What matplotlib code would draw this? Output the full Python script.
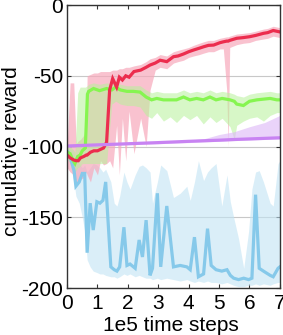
import numpy as np
import matplotlib.pyplot as plt

plt.rcParams['font.family'] = ['Liberation Sans', 'DejaVu Sans']

# blue series
blue_t = [0, 0.07, 0.23, 0.29, 0.4, 0.5, 0.58, 0.66, 0.76, 0.86, 0.98, 1.08, 1.18, 1.27,
          1.44, 1.55, 1.64, 1.73, 1.87, 1.97, 2.07, 2.24, 2.37, 2.48, 2.6, 2.73, 2.81, 2.97,
          3.08, 3.28, 3.5, 3.72, 3.94, 4.05, 4.19, 4.32, 4.49, 4.62, 4.74, 4.9, 5.09, 5.26,
          5.37, 5.48, 5.64, 5.81, 5.97, 6.08, 6.2, 6.32, 6.46, 6.68, 6.78, 6.94, 7.0]
blue = [-103, -105, -117, -128, -125, -119, -119, -175, -140, -159, -139, -140, -138, -125,
        -185, -187, -188, -185, -157, -184, -183, -186, -166, -178, -152, -191, -186, -133,
        -185, -142, -185, -184, -185, -187, -164, -192, -190, -158, -184, -187, -188, -187,
        -191, -193, -194, -193, -194, -193, -134, -186, -188, -191, -192, -186, -185]
blue_hi = [-100, -100, -105, -108, -112, -115, -113, -118, -115, -112, -113, -115, -118, -116,
           -125, -140, -142, -135, -118, -125, -130, -120, -114, -113, -115, -118, -140, -125,
           -113, -117, -136, -133, -128, -138, -125, -110, -124, -118, -115, -112, -142, -120,
           -139, -150, -165, -186, -160, -130, -118, -117, -125, -140, -142, -112, -110]
blue_lo = [-105, -110, -125, -135, -140, -150, -160, -180, -185, -188, -189, -190, -190, -191,
           -192, -192, -193, -192, -190, -191, -190, -192, -191, -192, -193, -193, -194, -193,
           -194, -193, -194, -195, -194, -195, -196, -195, -196, -195, -196, -196, -197, -196,
           -197, -198, -199, -199, -198, -198, -197, -198, -197, -198, -197, -196, -196]

# red series
red_t = [0, 0.1, 0.22, 0.3, 0.37, 0.44, 0.55, 0.63, 0.66, 0.77, 0.88, 1.0, 1.1, 1.2, 1.3, 1.4,
         1.5, 1.63, 1.72, 1.82, 1.93, 2.04, 2.2, 2.42, 2.6, 2.73, 2.9, 3.06, 3.28, 3.5, 3.65,
         3.83, 4.0, 4.16, 4.35, 4.49, 4.65, 4.82, 5.03, 5.14, 5.25, 5.3, 5.35, 5.58, 5.8, 6.0,
         6.2, 6.46, 6.6, 6.78, 7.0]
red = [-106, -108, -109.5, -110, -110, -108, -107, -106, -106, -104, -103, -103, -102, -101,
       -97, -60, -52, -58, -51, -53, -50, -51, -47, -46, -44, -42.4, -41, -39, -40, -36.5, -36,
       -34.6, -33, -31.8, -30.5, -29.5, -28.5, -28.3, -26.6, -26, -25.5, -25.5, -25, -23.5,
       -23, -22.4, -21.5, -20, -19.5, -18, -19]
red_hi = [-100, -55, -55, -98, -96, -95, -92, -88, -50, -49, -48, -48, -47, -47, -47, -47,
          -46, -46, -45, -45, -44, -44, -43, -42, -40, -38, -37, -35, -36, -33, -32, -31, -30,
          -28.5, -27, -26, -25, -25, -23.5, -23, -22.5, -22.5, -22, -20.5, -20, -19.5, -18.5,
          -17, -16.5, -15, -16]
red_lo = [-115, -118, -120, -125, -125, -123, -122, -118, -120, -125, -115, -120, -110, -113,
          -112, -110, -115, -85, -120, -80, -110, -75, -105, -80, -100, -60, -46, -44, -45, -41,
          -40, -39, -37, -36, -35, -34, -33, -33, -31, -31, -60, -100, -30, -28, -27, -26.5, -25,
          -24, -23.5, -22, -23]

# green series
green_t = [0, 0.1, 0.2, 0.26, 0.35, 0.43, 0.5, 0.6, 0.67, 0.71, 0.87, 1.07, 1.3, 1.47, 1.6,
           1.75, 1.97, 2.18, 2.4, 2.6, 2.78, 2.95, 3.17, 3.39, 3.6, 3.83, 4.04, 4.26, 4.48, 4.7,
           4.9, 5.1, 5.36, 5.5, 5.58, 5.8, 6.0, 6.24, 6.46, 6.68, 6.9, 7.0]
green = [-104, -105, -110, -112, -107, -106, -103, -101, -63, -61, -59, -60.5, -59, -60, -58,
         -60, -61, -61, -61.5, -65, -67, -66, -67, -67, -67, -65, -67, -66, -67, -65, -67, -66,
         -67, -68, -70, -71, -68, -67, -66.5, -66, -67, -67]
green_hi = [-100, -100, -102, -104, -62, -58, -58, -58, -57, -56, -55, -56, -55, -56, -54, -56,
            -57, -57, -57, -60, -62, -61, -62, -62, -62, -60, -62, -61, -62, -60, -62, -61, -62,
            -63, -64, -65, -63, -62, -61.5, -61, -62, -62]
green_lo = [-108, -112, -116, -118, -115, -114, -112, -112, -112, -112, -112, -112, -112, -70,
            -68, -70, -71, -71, -72, -78, -80, -76, -82, -79, -83, -78, -81, -78, -84, -79, -83,
            -80, -86, -95, -85, -82, -80, -79, -82, -78, -76, -76]

# purple series
purple_t = [0, 1, 2, 3, 4, 4.5, 5, 5.5, 6, 6.5, 7]
purple = [-99.6, -98.8, -98, -97.2, -96.3, -95.9, -95.5, -95, -94.6, -94.2, -93.8]
purple_hi = [-98.8, -98, -97.2, -96.4, -95.4, -94.5, -91.5, -89.5, -86, -83, -78]
purple_lo = [-100.4, -99.6, -98.8, -98, -97.2, -96.7, -96.3, -95.8, -95.4, -95, -94.6]

x_ticks = [0, 1, 2, 3, 4, 5, 6, 7]
y_ticks = [0, -50, -100, -150, -200]

fig = plt.figure(figsize=(2.83, 3.35), dpi=100)
ax = fig.add_axes([0.237, 0.14, 0.752, 0.845])

# fills: blue, red, green, purple (green over red gives the tan overlap)
fills = [
    (blue_t, blue_lo, blue_hi, '#c2e4f4', 0.6),
    (red_t, red_lo, red_hi, '#f7a9bb', 0.7),
    (green_t, green_lo, green_hi, '#b6f29a', 0.55),
    (purple_t, purple_lo, purple_hi, '#dcb6f7', 0.6),
]
for t, lo, hi, fc, a in fills:
    ax.fill_between(t, lo, hi, color=fc, alpha=a, linewidth=0)

lines = [
    (blue_t, blue, '#86c9ea'),
    (green_t, green, '#86f550'),
    (red_t, red, '#ec2d4e'),
    (purple_t, purple, '#c883f2'),
]
for t, y, c in lines:
    ax.plot(t, y, color=c, linewidth=2.3, solid_joinstyle='miter')

ax.set_xlim(0, 7)
ax.set_ylim(-200, 0)
ax.set_xticks(x_ticks)
ax.set_yticks(y_ticks)
ax.set_yticklabels([str(v) for v in y_ticks])
ax.yaxis.grid(True, color='#c8c8c8', linewidth=0.8)
ax.set_axisbelow(True)
ax.tick_params(direction='in', top=True, right=True, labelsize=15, length=3,
               width=0.8, color='#333333')
ax.tick_params(axis='y', pad=3)
ax.tick_params(axis='x', pad=4)
for s in ax.spines.values():
    s.set_color('#333333')
    s.set_linewidth(1.0)

ax.set_xlabel('1e5 time steps', fontsize=15)
ax.set_ylabel('cumulative reward', fontsize=15)
ax.xaxis.set_label_coords(0.49, -0.1)
ax.yaxis.set_label_coords(-0.215, 0.484)

fig.savefig('out.png', dpi=100)
